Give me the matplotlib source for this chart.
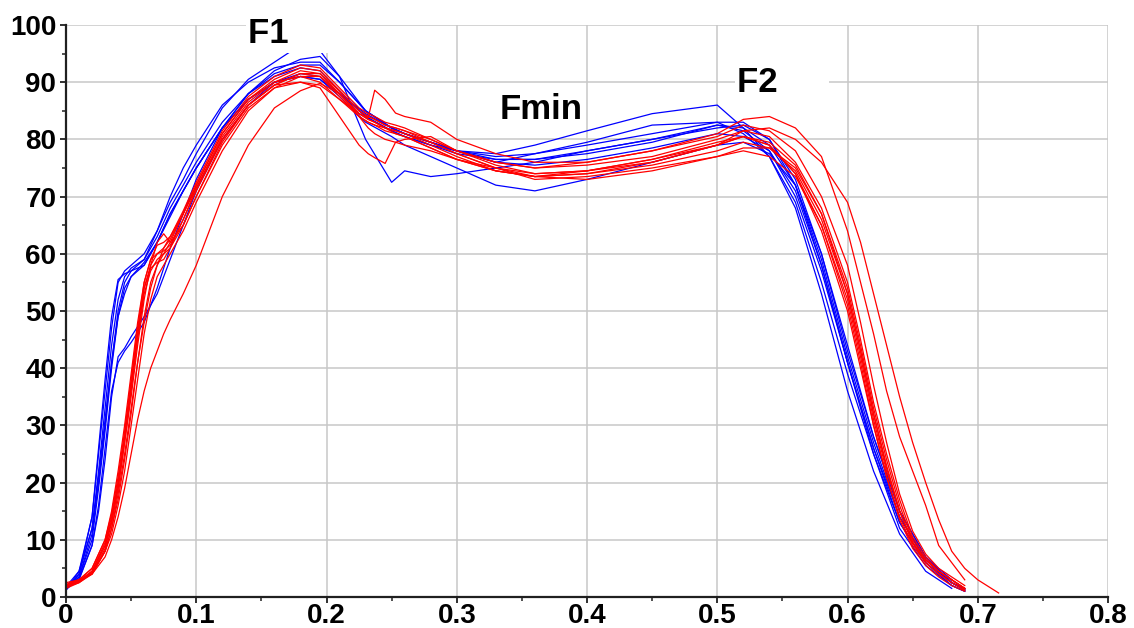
import numpy as np
import matplotlib
matplotlib.use('Agg')
import matplotlib.pyplot as plt
import matplotlib.ticker as ticker

plt.rcParams['font.family'] = ['Liberation Sans', 'DejaVu Sans']
plt.rcParams['font.weight'] = 'bold'

nan = np.nan

# time grid (s) shared by the blue trials
blue_t = [0, .01, .02, .025, .03, .035, .04, .045, .05, .06, .07, .08, .09, .1, .12, .14, .16, .18, .195, .21,
          .23, .25, .26, .28, .3, .33, .36, .4, .45, .5, .52, .54, .56, .58, .6, .62, .64, .66, .68, .69]

blue_f = [
    [1.2, 4, 14, 25, 36, 47, 55, 57, 58, 60, 64, 69, 73, 77.5, 85.5, 90.5, 93.5, 96.5, 95.5, 91,
     85, 82, 81, 79.5, 78, 77.5, 79, 81.5, 84.5, 86, 82, 77, 68, 53, 36, 22, 11, 4.5, 1.5, nan],
    [1.5, 3.5, 10, 19, 29, 40, 49, 54, 56, 58, 62, 67, 71, 75, 82, 88, 92, 94, 94.5, 91,
     80, 72.5, 74.5, 73.5, 74, 75, 76, 78, 80, 82.5, 81.5, 78, 70, 57, 41, 26, 13, 6, 2, 1],
    [1.8, 4.5, 12, 21, 31, 41, 49, 53, 56, 58.5, 62, 66.5, 71, 75, 82, 87, 90, 91, 90.5, 87.5,
     83, 80.5, 79, 77, 75, 72, 71, 73, 76, 79, 79.5, 77.5, 72, 60, 43, 28, 15, 7, 3, nan],
    [1.5, 3, 9, 15, 24, 35, 42, 43.5, 45.5, 49, 53, 59, 65, 71, 80, 86, 90, 91.5, 91, 88,
     84, 81.5, 80.5, 79, 78, 77, 77.5, 79, 81, 83, 83, 80, 73, 60, 44, 28, 15, 7, 2.5, 1.2],
    [1.3, 3.2, 9, 16, 26, 36, 41, 43, 44.5, 48, 54, 61, 67, 73, 82, 88, 91.5, 93, 93, 90,
     85, 82, 81, 79.5, 78, 76.5, 76.5, 78, 80, 82, 82.5, 80, 72, 58, 41, 26, 14, 6.5, 2.5, 1.2],
    [1.5, 3.5, 11, 20, 30, 41, 50, 55, 57, 59, 63, 68, 72, 76, 83, 88, 91, 92.5, 92, 88.5,
     84, 81.5, 80.5, 79, 77.5, 76.5, 76.5, 77.5, 79.5, 82.5, 82, 79, 72, 59, 42, 27, 14, 6.5, 2.5, 1.3],
    [1.4, 4, 12, 22, 33, 44, 52, 56, 57.5, 59, 64, 70, 75, 79, 86, 90, 92.5, 93.5, 93.5, 90,
     85, 82, 81, 79.5, 78, 76, 77.5, 79.5, 82.5, 83, 81, 77, 69, 55, 39, 25, 13, 6, 2.5, 1.5],
    [1.2, 4.5, 14, 26, 38, 49, 55.5, 56.5, 57, 58, 62, 67, 71, 75, 82, 87, 90, 91, 90.5, 88,
     84.5, 82, 81, 79.5, 78, 76, 75.5, 76.5, 78.5, 81, 80.5, 78, 71, 58, 41, 25, 12, 5.5, 2, 1],
]

# time grid (s) shared by the red trials
red_t = [0, .01, .02, .03, .035, .04, .045, .05, .055, .06, .065, .07, .075, .08, .09, .1, .12, .14, .16, .18,
         .195, .21, .225, .232, .237, .245, .253, .26, .28, .3, .33, .36, .4, .45, .5, .52, .54, .56, .58, .6,
         .61, .62, .63, .64, .65, .66, .67, .68, .69, .7, .716]

red_f = [
    [2.5, 3, 4, 7, 10, 14, 19, 25, 31, 36, 40, 43, 46, 48.5, 53, 58, 70, 79, 85.5, 88.5,
     89.8, 88, 84, 82, 81, 80, 79.5, 79, 78, 76.5, 75, 74, 74.5, 76, 79, 81.5, 82, 80, 76, 69,
     62, 53, 44, 35, 27, 20, 13.5, 8, 5, 3, 0.7],
    [2, 2.8, 4.5, 9, 13, 19, 27, 36, 45, 53, 57, 59, 60, 62, 67, 72, 81, 87, 90, 91,
     90, 87, 84.5, 83.8, 88.6, 87, 84.6, 84, 83, 80, 77.5, 76, 76, 78, 81, 83.5, 84, 82, 77, 64,
     55, 46, 36, 28, 22, 16, 9, 6, 3, nan, nan],
    [2, 2.8, 4.2, 8, 12, 17, 24, 32, 41, 49, 55, 58, 60, 61, 65, 70, 79, 85.5, 89, 90,
     89, 84, 79, 77.5, 76.8, 75.8, 79.5, 80, 80.5, 78, 75.5, 74, 74.5, 76.5, 79.5, 80.5, 79, 74, 65, 52,
     42, 31, 22, 15, 9.5, 6.5, 4.5, 3, 1.5, nan, nan],
    [1.8, 2.6, 4.5, 9.5, 14, 20, 28, 37, 46, 54, 58, 60, 61, 62.5, 67, 72, 81, 87, 90.5, 92.5,
     92, 88.5, 85, 84, 83.5, 82.5, 82, 81.5, 79.5, 77.5, 75, 73.5, 74, 76, 79, 80.5, 79, 74, 64, 50,
     40, 30, 21, 14, 9, 6, 4, 2.5, 1.2, nan, nan],
    [2.2, 3, 5, 10, 15, 22, 30, 39, 48, 55, 59, 61.5, 62, 63, 67.5, 72.5, 81.5, 87.5, 91, 93,
     92.5, 89, 85.5, 84.5, 84, 83, 82.5, 82, 80, 78, 76, 75, 75.5, 77, 80, 81.5, 80.5, 76, 68, 55,
     45, 34, 25, 17, 10.5, 7, 4.5, 3, 1.5, nan, nan],
    [2, 2.8, 4, 8, 11, 16, 22, 30, 38, 46, 52, 56, 58, 60, 64, 69, 78, 85, 89, 91,
     91, 88, 84.5, 83.5, 83, 82, 81.5, 81, 79, 77, 74.5, 73.5, 74.5, 76.5, 79, 80.5, 79.5, 75.5, 67, 54,
     44, 33, 24, 16, 10, 6.5, 4.5, 3, 1.5, nan, nan],
    [1.8, 2.5, 4.2, 8.5, 13, 19, 27, 35, 44, 52, 58, 62, 63.5, 62, 65, 70, 79.5, 86, 89.5, 90,
     89.5, 87, 84, 83, 82.5, 82, 81.5, 81, 79.5, 77.5, 75, 73, 73.5, 75, 77, 78, 77, 73.5, 65, 51,
     41, 30, 21, 13.5, 8.5, 5.5, 3.5, 2, 1, nan, nan],
    [2, 2.8, 4.5, 9, 13.5, 20, 28, 37, 46, 54, 57.5, 58.5, 59, 61, 66, 71, 80, 86, 89.5, 91.5,
     91.5, 88, 84.5, 83.5, 83, 82, 81, 80.5, 78.5, 76.5, 74.5, 73.5, 73, 74.5, 77, 78.5, 78.5, 75, 67, 53,
     43, 32, 23, 15, 9.5, 6.5, 4.5, 3, 1.5, nan, nan],
    [2, 3, 5, 10, 14.5, 21, 29, 38, 47, 55, 59, 60, 60.5, 61.5, 66, 71.5, 80.5, 86.5, 90, 92,
     91.5, 88.5, 85, 84, 83.5, 82.5, 82, 81.5, 80, 78, 76, 75, 76, 78, 80.5, 82.5, 81.5, 78, 70, 58,
     48, 37, 27, 18, 11.5, 7.5, 5, 3.5, 2, nan, nan],
    [1.5, 2.5, 4, 8, 12, 18, 25, 33, 41, 48, 54, 58, 61, 63, 67, 71.5, 80, 86, 89.5, 91.5,
     91, 87.5, 84, 83, 82.5, 81.5, 81, 80.5, 78.5, 76.5, 74.5, 73.5, 74, 75.5, 78, 79.5, 78.5, 74.5, 66, 53,
     43, 32, 22.5, 15, 9.5, 6, 4, 2.5, 1.2, nan, nan],
]

x_ticks = [0, 0.1, 0.2, 0.3, 0.4, 0.5, 0.6, 0.7, 0.8]
x_labels = ['0', '0.1', '0.2', '0.3', '0.4', '0.5', '0.6', '0.7', '0.8']
y_ticks = [0, 10, 20, 30, 40, 50, 60, 70, 80, 90, 100]

# peak labels: text, left x, baseline y
peak_names = ['F1     ', 'Fmin', 'F2     ']
peak_x = [0.140, 0.333, 0.5155]
peak_y = [96.9, 83.6, 88.3]

fig = plt.figure(figsize=(11.34, 6.28), dpi=100)
ax = fig.add_axes([0.0582, 0.0494, 0.9189, 0.9108])

for f in blue_f:
    ax.plot(blue_t, f, color='#0000ff', linewidth=0.9)
for f in red_f:
    ax.plot(red_t, f, color='#ff0000', linewidth=0.9)

for name, px, py in zip(peak_names, peak_x, peak_y):
    ax.text(px, py, name, fontsize=25, fontweight='bold', ha='left', va='baseline',
            bbox=dict(facecolor='white', edgecolor='none', pad=2), zorder=5)

ax.set_xlim(0, 0.8)
ax.set_ylim(0, 100)
ax.set_xticks(x_ticks)
ax.set_xticklabels(x_labels)
ax.set_yticks(y_ticks)
ax.xaxis.set_minor_locator(ticker.MultipleLocator(0.05))
ax.yaxis.set_minor_locator(ticker.MultipleLocator(5))

ax.grid(True, which='major', color='#c8c8c8', linewidth=1.1)
ax.set_axisbelow(True)

for side in ['top', 'right']:
    ax.spines[side].set_visible(False)
for side in ['left', 'bottom']:
    ax.spines[side].set_color('#202020')
    ax.spines[side].set_linewidth(1.6)

ax.tick_params(which='major', direction='out', length=4, width=1.3, color='#202020',
               labelsize=20)
ax.tick_params(which='minor', direction='out', length=3, width=1.1, color='#202020')
ax.tick_params(axis='x', which='major', pad=0)
ax.tick_params(axis='y', which='major', pad=3)
for lbl in ax.get_xticklabels() + ax.get_yticklabels():
    lbl.set_fontweight('bold')

plt.savefig('out.png', dpi=100)
